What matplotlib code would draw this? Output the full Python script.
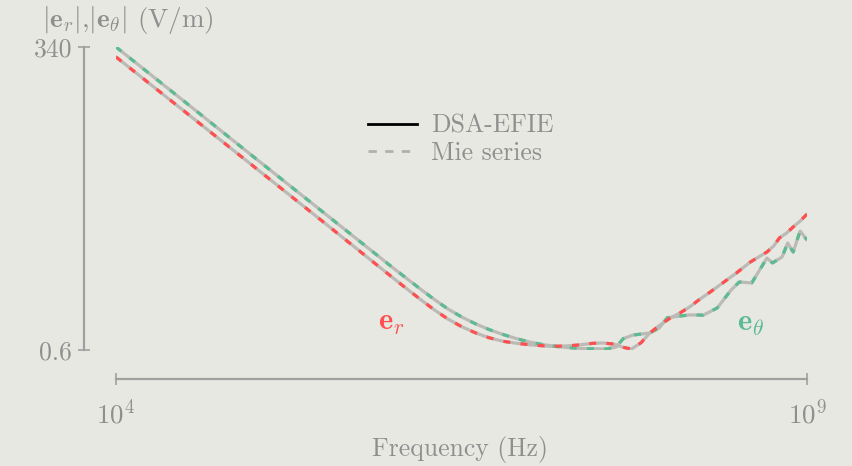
import numpy as np
import matplotlib
matplotlib.use("Agg")
import matplotlib.pyplot as plt
from matplotlib.lines import Line2D
from matplotlib.ticker import NullLocator

plt.rcParams['font.family'] = 'serif'
plt.rcParams['font.serif'] = ['cmr10']
plt.rcParams['mathtext.fontset'] = 'cm'
plt.rcParams['axes.formatter.use_mathtext'] = True
plt.rcParams['axes.unicode_minus'] = False

# ---- data (log10 of frequency in Hz, field magnitude in V/m) ----
fexp_r = [4.0, 4.5, 5.0, 5.5, 6.0, 6.1, 6.2, 6.3, 6.4, 6.5, 6.6, 6.7, 6.8,
          6.9, 7.0, 7.14, 7.25, 7.34, 7.45, 7.52, 7.6, 7.67, 7.73, 7.8, 7.86,
          7.93, 8.01, 8.08, 8.15, 8.22, 8.3, 8.39, 8.49, 8.59, 8.65, 8.71,
          8.76, 8.8, 8.85, 8.9, 8.95, 9.0]
e_r = [276, 87.5, 27.7, 8.75, 2.74, 2.18, 1.74, 1.40, 1.15, 0.98, 0.86,
       0.775, 0.72, 0.69, 0.668, 0.648, 0.652, 0.665, 0.69, 0.695, 0.68,
       0.635, 0.612, 0.70, 0.85, 1.0, 1.17, 1.3, 1.475, 1.72, 2.02, 2.44,
       3.01, 3.78, 4.2, 4.66, 5.3, 6.25, 6.9, 7.87, 8.9, 10.3]

fexp_t = [4.0, 4.5, 5.0, 5.5, 6.0, 6.1, 6.2, 6.3, 6.4, 6.5, 6.6, 6.7, 6.8,
          6.9, 7.0, 7.1, 7.2, 7.3, 7.4, 7.55, 7.62, 7.67, 7.74, 7.86, 7.93,
          7.99, 8.08, 8.15, 8.25, 8.35, 8.45, 8.51, 8.6, 8.71, 8.75, 8.82,
          8.86, 8.9, 8.95, 9.0]
e_t = [340, 107.5, 33.8, 10.7, 3.38, 2.70, 2.16, 1.74, 1.42, 1.20, 1.04,
       0.92, 0.83, 0.76, 0.705, 0.668, 0.643, 0.627, 0.617, 0.613, 0.64,
       0.76, 0.82, 0.856, 0.95, 1.18, 1.22, 1.25, 1.245, 1.445, 2.1, 2.49,
       2.44, 4.11, 3.71, 4.2, 5.63, 4.66, 7.24, 6.0]

freq_r = 10.0 ** np.array(fexp_r)
freq_t = 10.0 ** np.array(fexp_t)

ytick_vals = [0.6, 340]
ytick_labels = ['0.6', '340']
xtick_vals = [1e4, 1e9]
xtick_labels = [r'$10^4$', r'$10^9$']

BG = '#e8e8e3'
GRAYTXT = '#8f8f8f'
AXCOL = '#a0a0a0'
LINEGRAY = '#bcbab6'
RED = '#ff4f4f'
GREEN = '#5dbb92'

fig = plt.figure(figsize=(8.53, 4.66), dpi=100, facecolor=BG)
W, H = 853, 466
ax = fig.add_axes([116 / W, (H - 350) / H, 691 / W, 303 / H])
ax.set_facecolor(BG)
ax.set_xscale('log')
ax.set_yscale('log')
ax.set_xlim(1e4, 1e9)
ax.set_ylim(0.6, 340)

for f, v, c in [(freq_t, e_t, GREEN), (freq_r, e_r, RED)]:
    ax.plot(f, v, color=LINEGRAY, lw=2.3, solid_capstyle='round', zorder=2)
    ax.plot(f, v, color=c, lw=2.3, dashes=(2.2, 3.2), zorder=3)

for s in ['top', 'right']:
    ax.spines[s].set_visible(False)
ax.spines['left'].set_position(('outward', 23))
ax.spines['bottom'].set_position(('outward', 21))
ax.spines['left'].set_bounds(0.6, 340)
for s in ['left', 'bottom']:
    ax.spines[s].set_color(AXCOL)
    ax.spines[s].set_linewidth(1.6)

ax.set_yticks(ytick_vals)
ax.set_yticklabels(ytick_labels)
ax.set_xticks(xtick_vals)
ax.set_xticklabels(xtick_labels)
ax.xaxis.set_minor_locator(NullLocator())
ax.yaxis.set_minor_locator(NullLocator())
ax.tick_params(axis='both', direction='inout', length=9, width=1.2,
               color=AXCOL, labelcolor=GRAYTXT, labelsize=18.5)
ax.tick_params(axis='x', labelsize=19.5, pad=9)
ax.tick_params(axis='y', pad=4)

fig.text(460 / W, 1 - 456 / H, 'Frequency (Hz)', color=GRAYTXT, fontsize=18.5,
         ha='center', va='baseline')

fig.text(42 / W, 1 - 27 / H, r'$|\mathbf{e}_r|$,$|\mathbf{e}_\theta|$ (V/m)',
         color=GRAYTXT, fontsize=19.5, ha='left', va='baseline')

ax.text(10 ** 5.99, 1.05, r'$\mathbf{e}_r$', color=RED, fontsize=22,
        ha='center', va='center')
ax.text(10 ** 8.59, 1.03, r'$\mathbf{e}_\theta$', color=GREEN, fontsize=22,
        ha='center', va='center')

handles = [Line2D([], [], color='black', lw=2),
           Line2D([], [], color='#b0b0b0', lw=2, dashes=(3, 3))]
leg = ax.legend(handles, ['DSA-EFIE', 'Mie series'], loc='upper left',
                bbox_to_anchor=(368 / W, 1 - 114 / H),
                bbox_transform=fig.transFigure, frameon=False, fontsize=18.5,
                handlelength=1.9, handletextpad=0.55, labelspacing=0.15,
                borderpad=0, borderaxespad=0)
for t in leg.get_texts():
    t.set_color(GRAYTXT)

fig.savefig('out.png', dpi=100, facecolor=BG)
